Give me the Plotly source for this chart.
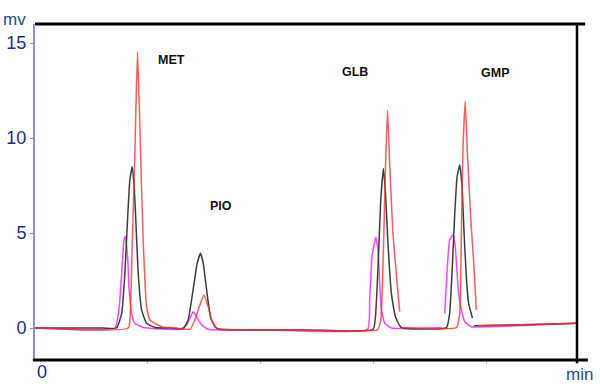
import plotly.graph_objects as go

# ---- data (time in min, signal in mV) ----
black_t = [0, 3.0, 3.61, 3.84, 3.98, 4.09, 4.20, 4.31, 4.40, 4.47, 4.57, 4.72, 4.94, 5.31, 6.0,
           6.56, 6.78, 7.00, 7.18, 7.33, 7.45, 7.60, 7.77, 7.96, 8.19, 10.0, 12.0,
           14.97, 15.12, 15.22, 15.31, 15.43, 15.52, 15.63, 15.78, 15.96, 16.22,
           18.22, 18.36, 18.48, 18.58, 18.69, 18.81, 18.91, 19.0, 19.1, 19.2, 19.37, None,
           19.45, 22.0, 24.0]
black_v = [0, 0, 0, 0.77, 2.88, 5.51, 7.79, 8.49, 7.26, 5.51, 2.88, 0.95, 0.25, 0.03, 0,
           -0.05, 0.42, 2.0, 3.40, 3.93, 3.40, 2.0, 0.59, 0.07, -0.07, -0.1, -0.1,
           -0.07, 1.47, 4.1, 6.74, 8.40, 7.09, 4.46, 1.82, 0.59, 0.02,
           0.02, 0.77, 3.23, 5.86, 7.96, 8.58, 7.44, 4.98, 2.7, 1.3, 0.53, None,
           0.12, 0.18, 0.25]

red_t = [0, 4.13, 4.23, 4.31, 4.40, 4.47, 4.54, 4.62, 4.70, 4.79, 4.94, 5.09, 5.61, 6.19,
         6.86, 7.08, 7.27, 7.48, 7.67, 7.82, 8.04, 8.33, 10.0, 12.0,
         15.16, 15.31, 15.41, 15.52, 15.61, 15.71, 15.85, 16.05, 16.15, None,
         16.25, 18.66, 18.81, 18.88, 18.95, 19.05, 19.14, 19.29, 19.44, 19.54, None,
         19.62, 22.0, 24.0]
red_v = [0, 0, 1.12, 4.63, 8.14, 11.65, 14.54, 11.65, 8.14, 4.63, 1.12, 0.42, 0.07, 0,
         -0.07, 0.42, 1.12, 1.74, 1.12, 0.42, 0, -0.07, -0.1, -0.1,
         -0.1, 0.42, 3.23, 8.49, 11.47, 8.49, 4.98, 2.17, 0.86, None,
         0.02, 0.02, 0.77, 4.98, 9.37, 11.95, 9.37, 5.86, 3.23, 0.95, None,
         0.12, 0.18, 0.25]

magenta_t = [0, 3.54, 3.73, 3.84, 3.94, 4.00, 4.10, 4.17, 4.28, 4.42, 4.79,
             6.42, 6.71, 6.89, 7.00, 7.15, 7.38, 7.67, 10.0,
             14.72, 14.82, 14.92, 15.09, 15.19, 15.27, 15.34, 15.49, 15.78, 18.0, None,
             18.14, 18.26, 18.36, 18.51, 18.61, 18.73, 18.85, 19.03, 19.32, 22.0, 24.0]
magenta_v = [0, 0, 1.12, 2.88, 4.63, 4.81, 3.75, 2.0, 0.77, 0.25, 0.03,
             -0.07, 0.16, 0.59, 0.86, 0.59, 0.16, -0.07, -0.1,
             -0.07, 1.47, 3.75, 4.77, 4.1, 2.17, 0.95, 0.25, 0, 0.02, None,
             0.77, 3.23, 4.63, 4.89, 4.28, 2.17, 1.12, 0.33, 0.07, 0.15, 0.25]

peak_names = ["MET", "PIO", "GLB", "GMP"]
y_tick_vals = [0, 5, 10, 15]
x_tick_vals = [5, 10, 15, 20]

fig = go.Figure()
fig.add_trace(go.Scatter(x=magenta_t, y=magenta_v, mode="lines",
                         line=dict(color="#ff44ff", width=1.5, shape="spline", smoothing=0.4),
                         showlegend=False, hoverinfo="skip"))
fig.add_trace(go.Scatter(x=black_t, y=black_v, mode="lines",
                         line=dict(color="#3c3c3c", width=1.5, shape="spline", smoothing=0.4),
                         showlegend=False, hoverinfo="skip"))
fig.add_trace(go.Scatter(x=red_t, y=red_v, mode="lines",
                         line=dict(color="rgba(255,50,50,0.8)", width=1.5, shape="spline", smoothing=0.4),
                         showlegend=False, hoverinfo="skip"))

label_pos = [(6.06, 14.1), (8.23, 6.42), (14.18, 13.47), (20.35, 13.42)]
annotations = []
for name, (lx, ly) in zip(peak_names, label_pos):
    annotations.append(dict(x=lx, y=ly, xref="x", yref="y", text="<b>%s</b>" % name,
                            xanchor="center", yanchor="middle", showarrow=False,
                            font=dict(family="Liberation Sans, Arial", size=12.5, color="#111111")))
annotations += [
    dict(x=-0.0387, y=1.012, xref="paper", yref="paper", text="mv", showarrow=False,
         xanchor="center", yanchor="middle",
         font=dict(family="Liberation Sans, Arial", size=17, color="#1f4e8c")),
    dict(x=1.0037, y=-0.0446, xref="paper", yref="paper", text="min", showarrow=False,
         xanchor="center", yanchor="middle",
         font=dict(family="Liberation Sans, Arial", size=17, color="#1f4e8c")),
    dict(x=0.0138, y=-0.036, xref="paper", yref="paper", text="0", showarrow=False,
         xanchor="center", yanchor="middle",
         font=dict(family="Liberation Sans, Arial", size=18, color="#1e2a8c")),
]

shapes = [
    dict(type="line", xref="paper", yref="paper", x0=0, x1=1.015, y0=1, y1=1,
         line=dict(color="black", width=3)),
    dict(type="line", xref="paper", yref="paper", x0=-0.004, x1=1.02, y0=0, y1=0,
         line=dict(color="black", width=3)),
    dict(type="line", xref="paper", yref="paper", x0=1, x1=1, y0=-0.01, y1=1,
         line=dict(color="black", width=2.5)),
]

fig.update_layout(
    width=600, height=388,
    margin=dict(l=35, r=23, t=24, b=28, autoexpand=False),
    paper_bgcolor="white", plot_bgcolor="white",
    annotations=annotations, shapes=shapes,
    xaxis=dict(range=[0, 24], showgrid=False, zeroline=False, showline=False, automargin=False,
               tickvals=x_tick_vals, ticks="outside", ticklen=3, tickcolor="#bbbbbb",
               showticklabels=False),
    yaxis=dict(range=[-1.684, 16.0], showgrid=False, zeroline=False, showline=True, automargin=False,
               linecolor="#9090d0", linewidth=2, tickvals=y_tick_vals, ticks="outside",
               ticklen=3, tickcolor="#8888cc",
               tickfont=dict(family="Liberation Sans, Arial", size=18, color="#1e2a8c")),
)

fig.write_html("out.html", config={"displayModeBar": False},
               post_script="document.body.style.margin='0px';document.body.style.overflow='hidden';")
